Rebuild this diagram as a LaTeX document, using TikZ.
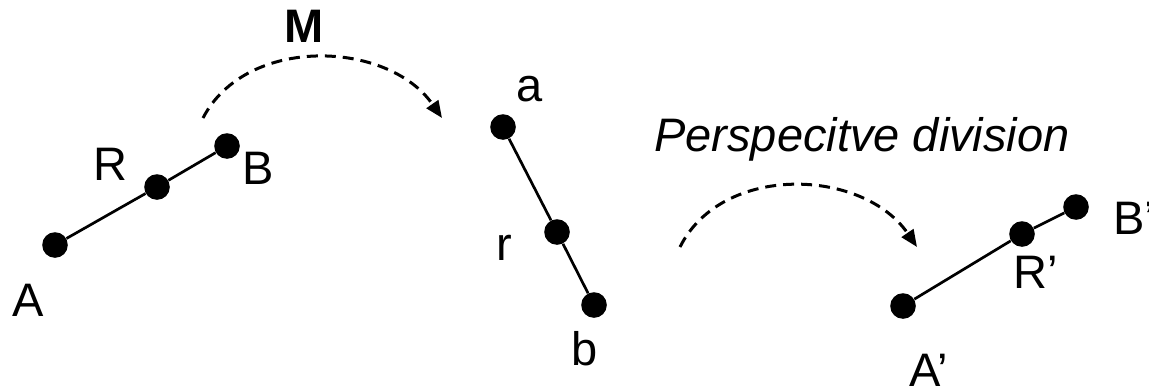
\documentclass[tikz,border=0pt]{standalone}
\usepackage{fontspec}
\setmainfont{Liberation Sans}
\usetikzlibrary{arrows.meta}
\tikzset{
  dot/.style={circle,fill=black,inner sep=0pt,minimum size=12.8pt},
  seg/.style={line width=1.35pt},
  lbl/.style={inner sep=0pt,font=\fontsize{23.5}{28}\selectfont},
  maparrow/.style={line width=1.5pt,dash pattern=on 5.5pt off 3.5pt,-{Triangle[length=8.5pt,width=7pt]}}
}
\begin{document}
\begin{tikzpicture}[x=0.5pt,y=-0.5pt]
\useasboundingbox (0,0) rectangle (1149,391);
% left segment
\node[dot] (A) at (55,245) {};
\node[dot] (R) at (157,187) {};
\node[dot] (B) at (227,146) {};
\draw[seg] (A) -- (R) -- (B);
\node[lbl] (lA) at (28,300) {A};
\node[lbl] (lR) at (110,164) {R};
\node[lbl] (lB) at (258,168) {B};
% middle segment
\node[dot] (a) at (503,127) {};
\node[dot] (r) at (557,232) {};
\node[dot] (b) at (594,305) {};
\draw[seg] (a) -- (r) -- (b);
\node[lbl] (la) at (530,89) {a};
\node[lbl] (lr) at (504,248) {r};
\node[lbl] (lb) at (585,349) {b};
% right segment
\node[dot] (A2) at (903,306) {};
\node[dot] (R2) at (1022,234) {};
\node[dot] (B2) at (1076,207) {};
\draw[seg] (A2) -- (R2) -- (B2);
\node[lbl,anchor=west] (lB2) at (1113,218) {B’};
\node[lbl] (lR2) at (1036,272) {R’};
\node[lbl] (lA2) at (929,370) {A’};
% arrows
\coordinate (m1s) at (203,118);
\coordinate (m1e) at (442,118);
\draw[maparrow] (m1s) .. controls (246,35) and (388,40) .. (m1e);
\node[lbl,font=\fontsize{23.5}{28}\selectfont\bfseries] (lM) at (304,26) {M};
\coordinate (m2s) at (680,247);
\coordinate (m2e) at (917,247);
\draw[maparrow] (m2s) .. controls (722,163) and (863,168) .. (m2e);
\node[lbl,font=\fontsize{23.5}{28}\selectfont\itshape] (lP) at (862,139) {Perspecitve division};
\end{tikzpicture}
\end{document}
